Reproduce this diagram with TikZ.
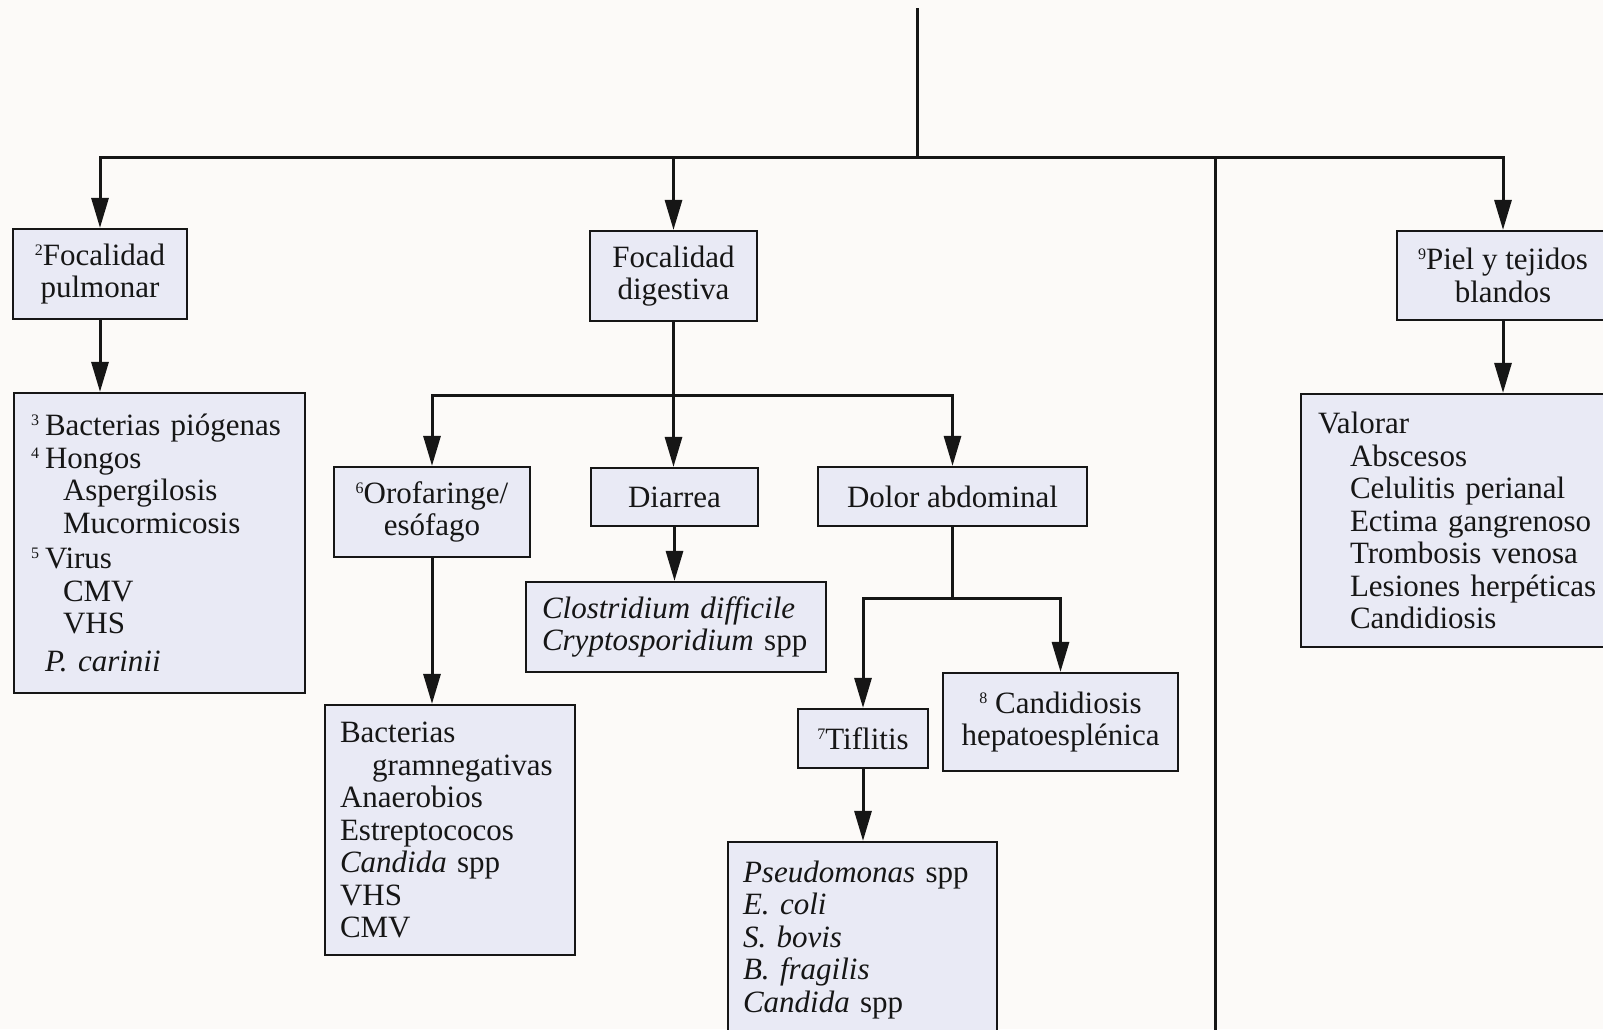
\documentclass[tikz,border=0pt]{standalone}
\usepackage{fontspec}
\setmainfont{Liberation Serif}
\usetikzlibrary{arrows.meta}
\definecolor{paper}{RGB}{252,250,248}
\definecolor{boxfill}{RGB}{233,234,245}
\definecolor{ink}{RGB}{22,22,22}
% small raised note marks
\newcommand{\sx}[1]{\raisebox{10pt}{\fontsize{16}{16}\selectfont #1}}
\newcommand{\hang}[1]{\makebox[14pt][l]{\sx{#1}}}
\newcommand{\ind}{\hspace*{32pt}}

\begin{document}
\begin{tikzpicture}[x=1pt,y=-1pt,
  every node/.style={font=\fontsize{31}{32.5}\selectfont, text=ink},
  box/.style={draw=ink, line width=2.2pt, fill=boxfill, inner sep=0pt, align=center},
  listbox/.style={draw=ink, line width=2.2pt, fill=boxfill, inner ysep=0pt, align=left},
  link/.style={draw=ink, line width=3pt},
  arr/.style={link, -{Triangle[length=30pt,width=17pt]}}
]
\useasboundingbox (0,0) rectangle (1603,1029);
\clip (0,0) rectangle (1603,1029);
\fill[paper] (0,0) rectangle (1603,1029);

% second level
\node[box, minimum width=174pt, minimum height=90pt] (pulm) at (100,274) {\sx{2}Focalidad\\pulmonar};
\node[box, minimum width=167pt, minimum height=90pt] (dig) at (673.5,276) {Focalidad\\digestiva};
\node[box, minimum width=212pt, minimum height=89pt] (piel) at (1503,275.5) {\sx{9}Piel y tejidos\\blandos};

% pulmonary findings
\node[listbox, inner xsep=17pt, text width=257pt, minimum height=300pt] (pulmlist) at (159.5,543) {%
\hang{3}Bacterias piógenas\\
\hang{4}Hongos\\
\ind Aspergilosis\\
\ind Mucormicosis\\[3pt]
\hang{5}Virus\\
\ind CMV\\
\ind VHS\\[5pt]
\hspace*{14pt}\textit{P. carinii}};

% skin findings
\node[listbox, inner xsep=17pt, text width=296pt, minimum height=253pt] (valorar) at (1466,520.5) {%
Valorar\\
\ind Abscesos\\
\ind Celulitis perianal\\
\ind Ectima gangrenoso\\
\ind Trombosis venosa\\
\ind Lesiones herpéticas\\
\ind Candidiosis};

% digestive branch
\node[box, minimum width=196pt, minimum height=90pt] (oro) at (432,512) {\sx{6}Orofaringe/\\esófago};
\node[box, minimum width=167pt, minimum height=58pt] (diar) at (674.5,497) {Diarrea};
\node[box, minimum width=269pt, minimum height=59pt] (dolor) at (952.5,496.5) {Dolor abdominal};

\node[listbox, inner xsep=16pt, text width=268pt, minimum height=90pt] (clos) at (676,627) {%
\textit{Clostridium difficile}\\
\textit{Cryptosporidium} spp};

\node[listbox, inner xsep=15pt, text width=220pt, minimum height=250pt] (bact) at (450,830) {%
Bacterias\\
\ind gramnegativas\\
Anaerobios\\
Estreptococos\\
\textit{Candida} spp\\
VHS\\
CMV};

\node[box, minimum width=130pt, minimum height=59pt] (tif) at (863,738.5) {\sx{7}Tiflitis};
\node[box, minimum width=235pt, minimum height=98pt] (cand) at (1060.5,722) {\sx{8} Candidiosis\\hepatoesplénica};

\node[listbox, inner xsep=15pt, text width=239pt, minimum height=196pt] (pseudo) at (862.5,940) {%
\textit{Pseudomonas} spp\\
\textit{E. coli}\\
\textit{S. bovis}\\
\textit{B. fragilis}\\
\textit{Candida} spp};

% trunk and main distribution line
\coordinate (top) at (917,8);
\coordinate (hub) at (917,157);
\coordinate (trunkend) at (1215,1040);
\draw[link] (top) -- (hub);
\draw[arr] (hub) -| (pulm);
\draw[arr] (hub) -| (dig);
\draw[arr] (hub) -| (piel);
\draw[link] (hub) -| (trunkend);

\draw[arr] (pulm) -- (pulm |- pulmlist.north);
\draw[arr] (piel) -- (piel |- valorar.north);

% digestive split
\coordinate (dsplit) at (673.5,395);
\draw[link] (dig) -- (dsplit);
\draw[arr] (dsplit) -| (oro);
\draw[arr] (dsplit) -- (dsplit |- diar.north);
\draw[arr] (dsplit) -| (dolor);

\draw[arr] (diar) -- (diar |- clos.north);
\draw[arr] (oro) -- (oro |- bact.north);

% abdominal pain split
\coordinate (asplit) at (952.5,598);
\draw[link] (dolor) -- (asplit);
\draw[arr] (asplit) -| (tif);
\draw[arr] (asplit) -| (cand);
\draw[arr] (tif) -- (tif |- pseudo.north);
\end{tikzpicture}
\end{document}
